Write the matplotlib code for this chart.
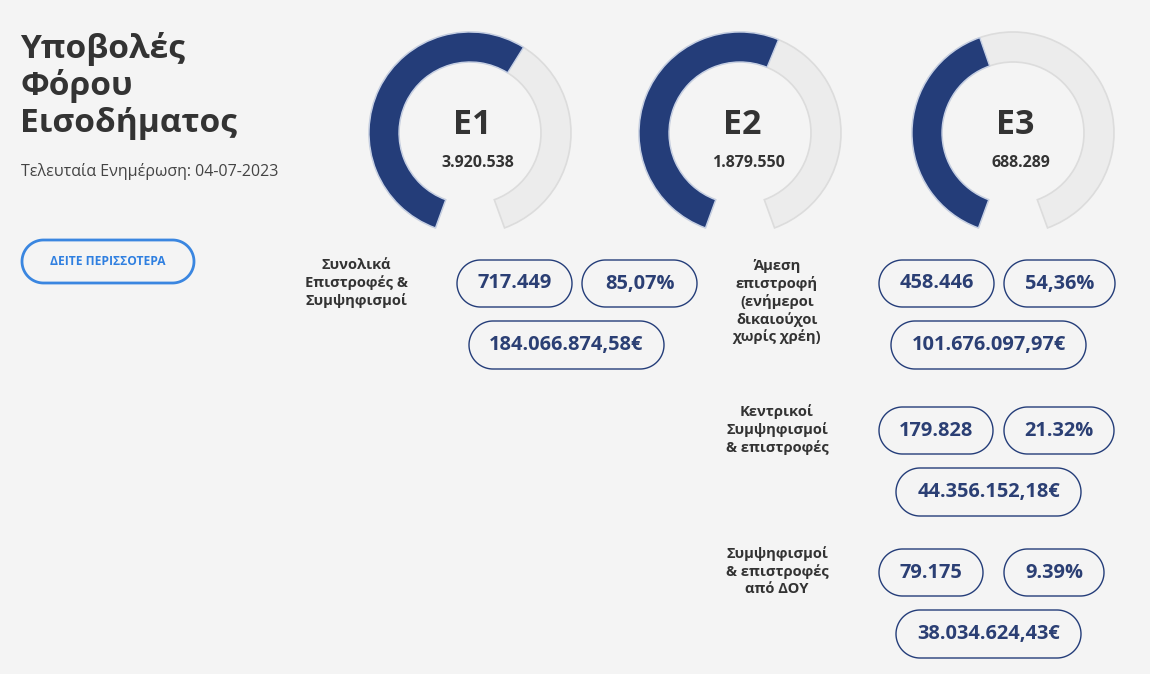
import matplotlib
matplotlib.use("Agg")
import numpy as np
import matplotlib.pyplot as plt
from matplotlib.patches import Wedge, Polygon

# ---------------- data ----------------
title_lines = ["Υποβολές", "Φόρου", "Εισοδήματος"]
subtitle = "Τελευταία Ενημέρωση: 04-07-2023"
button_label = "ΔΕΙΤΕ ΠΕΡΙΣΣΟΤΕΡΑ"

gauge_names = ["E1", "E2", "E3"]
gauge_totals = ["3.920.538", "1.879.550", "688.289"]
gauge_fill_pct = [60, 57, 44]  # share of the gauge arc that is filled

group_labels = [
    "Συνολικά\nΕπιστροφές &\nΣυμψηφισμοί",
    "Άμεση\nεπιστροφή\n(ενήμεροι\nδικαιούχοι\nχωρίς χρέη)",
    "Κεντρικοί\nΣυμψηφισμοί\n& επιστροφές",
    "Συμψηφισμοί\n& επιστροφές\nαπό ΔΟΥ",
]
group_counts = ["717.449", "458.446", "179.828", "79.175"]
group_pcts = ["85,07%", "54,36%", "21.32%", "9.39%"]
group_amounts = ["184.066.874,58€", "101.676.097,97€", "44.356.152,18€", "38.034.624,43€"]

# ---------------- styling / layout ----------------
W, H = 1150, 674
BG = "#f4f4f4"
NAVY = "#243d79"
PILL_TXT = "#2b3f74"
DARK = "#333333"
FONT = "Open Sans"


def Y(py):
    return H - py


def pt(px):
    return px * 0.72


fig = plt.figure(figsize=(W / 100, H / 100), dpi=100, facecolor=BG)
ax = fig.add_axes([0, 0, 1, 1])
ax.set_xlim(0, W)
ax.set_ylim(0, H)
ax.set_facecolor(BG)
ax.axis("off")


def pill_shape(x0, x1, y0, y1, edge, lw):
    r = (y1 - y0) / 2.0
    yc = Y((y0 + y1) / 2.0)
    t1 = np.linspace(np.pi / 2, 3 * np.pi / 2, 60)
    t2 = np.linspace(-np.pi / 2, np.pi / 2, 60)
    left = np.column_stack([x0 + r + r * np.cos(t1), yc + r * np.sin(t1)])
    right = np.column_stack([x1 - r + r * np.cos(t2), yc + r * np.sin(t2)])
    verts = np.vstack([left, right])
    ax.add_patch(Polygon(verts, closed=True, facecolor=BG, edgecolor=edge,
                         linewidth=lw, joinstyle="round"))


# Title
title_y = [49, 86, 123]
for line, py in zip(title_lines, title_y):
    ax.text(20, Y(py), line, fontsize=pt(33.5), fontweight="bold", color=DARK,
            family=FONT, ha="left", va="center")
ax.text(21, Y(172), subtitle, fontsize=pt(16), color="#444444",
        family=FONT, ha="left", va="center")

# Button
bx0, bx1, by0, by1 = 22, 194, 240, 283
pill_shape(bx0, bx1, by0, by1, "#3a86e0", 2.0)
ax.text((bx0 + bx1) / 2, Y((by0 + by1) / 2), button_label, fontsize=pt(12),
        fontweight="bold", color="#2f7fe0", family=FONT, ha="center", va="center")

# Gauges
centers_x = [470, 740, 1013]
cy = 133
r_out, ring_w = 101, 30
start_deg = 250.0
sweep = 320.0
for cx, name, tot, pct in zip(centers_x, gauge_names, gauge_totals, gauge_fill_pct):
    ax.add_patch(Wedge((cx, Y(cy)), r_out, start_deg - sweep, start_deg, width=ring_w,
                       facecolor="#ececec", edgecolor="#dcdcdc", linewidth=1.2))
    end = start_deg - sweep * pct / 100.0
    ax.add_patch(Wedge((cx, Y(cy)), r_out, end, start_deg, width=ring_w,
                       facecolor=NAVY, edgecolor="#c6d0e4", linewidth=1.0))
    ax.text(cx + 2, Y(cy - 8), name, fontsize=pt(34), fontweight="bold", color=DARK,
            family=FONT, ha="center", va="center")
    ax.text(cx + 8, Y(cy + 30), tot, fontsize=pt(16), fontweight="bold", color=DARK,
            family=FONT, ha="center", va="center")

# Groups: label position, line spacing, pill rows
label_x = [356, 777, 777, 777]
label_top = [265, 266, 412, 554]
row1_y = [(260, 307), (260, 307), (407, 454), (549, 596)]
row2_y = [(321, 369), (321, 369), (468, 516), (610, 658)]
count_x = [(457, 572), (879, 994), (879, 993), (879, 983)]
pct_x = [(582, 697), (1004, 1115), (1004, 1114), (1004, 1104)]
amount_x = [(469, 664), (891, 1086), (896, 1081), (896, 1081)]
line_h = 17.7


def pill(x0, x1, y0, y1, label):
    pill_shape(x0, x1, y0, y1, NAVY, 1.0)
    ax.text((x0 + x1) / 2, Y((y0 + y1) / 2), label, fontsize=pt(20),
            fontweight="bold", color=PILL_TXT, family=FONT, ha="center", va="center")


for i in range(len(group_labels)):
    for k, line in enumerate(group_labels[i].split("\n")):
        ax.text(label_x[i], Y(label_top[i] + k * line_h), line, fontsize=pt(14.8),
                fontweight="bold", color=DARK, family=FONT, ha="center", va="center")
    pill(*count_x[i], *row1_y[i], group_counts[i])
    pill(*pct_x[i], *row1_y[i], group_pcts[i])
    pill(*amount_x[i], *row2_y[i], group_amounts[i])

fig.savefig("out.png", dpi=100, facecolor=BG)
